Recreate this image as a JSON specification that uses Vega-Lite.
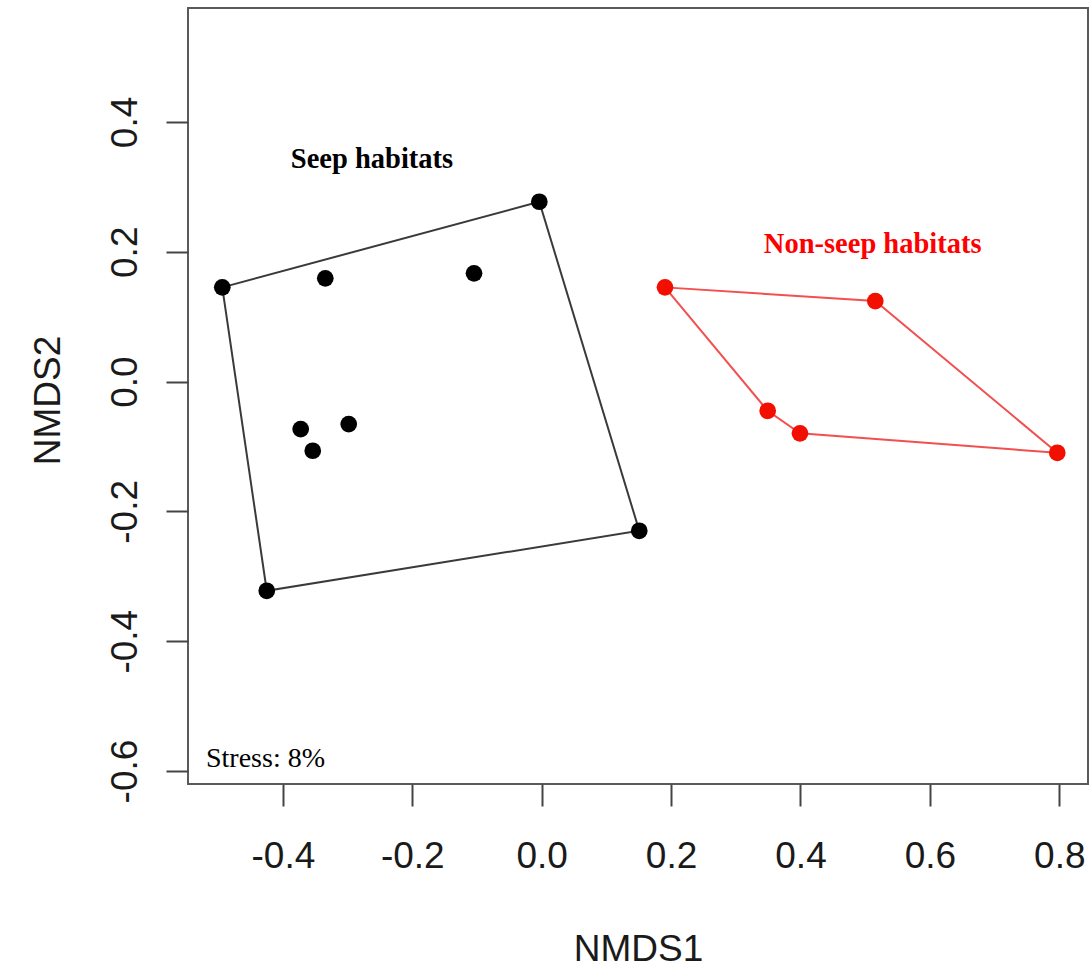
{
  "$schema": "https://vega.github.io/schema/vega-lite/v6.json",
  "width": 900,
  "height": 776,
  "autosize": {"type": "none"},
  "padding": {"left": 188, "top": 8, "right": 4, "bottom": 185},
  "background": "white",
  "config": {
    "view": {"stroke": "#5a5a5a", "strokeWidth": 2},
    "axis": {
      "labelFont": "Liberation Sans",
      "titleFont": "Liberation Sans",
      "labelFontSize": 37,
      "titleFontSize": 37,
      "labelColor": "#1a1a1a",
      "titleColor": "#1a1a1a",
      "titleFontWeight": "normal",
      "tickColor": "#444444",
      "tickWidth": 2,
      "tickSize": 22,
      "domain": false,
      "grid": false
    }
  },
  "datasets": {
    "pts": [
      {"NMDS1": -0.4937, "NMDS2": 0.1451, "habitat": "Seep"},
      {"NMDS1": -0.3345, "NMDS2": 0.1590, "habitat": "Seep"},
      {"NMDS1": -0.1046, "NMDS2": 0.1667, "habitat": "Seep"},
      {"NMDS1": -0.0037, "NMDS2": 0.2770, "habitat": "Seep"},
      {"NMDS1": -0.3725, "NMDS2": -0.0732, "habitat": "Seep"},
      {"NMDS1": -0.3539, "NMDS2": -0.1066, "habitat": "Seep"},
      {"NMDS1": -0.2983, "NMDS2": -0.0655, "habitat": "Seep"},
      {"NMDS1": 0.1508, "NMDS2": -0.2299, "habitat": "Seep"},
      {"NMDS1": -0.4250, "NMDS2": -0.3223, "habitat": "Seep"},
      {"NMDS1": 0.1906, "NMDS2": 0.1451, "habitat": "Non-seep"},
      {"NMDS1": 0.5156, "NMDS2": 0.1240, "habitat": "Non-seep"},
      {"NMDS1": 0.3493, "NMDS2": -0.0450, "habitat": "Non-seep"},
      {"NMDS1": 0.3992, "NMDS2": -0.0798, "habitat": "Non-seep"},
      {"NMDS1": 0.7969, "NMDS2": -0.1097, "habitat": "Non-seep"}
    ],
    "hull": [
      {"NMDS1": -0.4937, "NMDS2": 0.1451, "habitat": "Seep", "ord": 1},
      {"NMDS1": -0.0037, "NMDS2": 0.2770, "habitat": "Seep", "ord": 2},
      {"NMDS1": 0.1508, "NMDS2": -0.2299, "habitat": "Seep", "ord": 3},
      {"NMDS1": -0.4250, "NMDS2": -0.3223, "habitat": "Seep", "ord": 4},
      {"NMDS1": -0.4937, "NMDS2": 0.1451, "habitat": "Seep", "ord": 5},
      {"NMDS1": 0.1906, "NMDS2": 0.1451, "habitat": "Non-seep", "ord": 1},
      {"NMDS1": 0.5156, "NMDS2": 0.1240, "habitat": "Non-seep", "ord": 2},
      {"NMDS1": 0.7969, "NMDS2": -0.1097, "habitat": "Non-seep", "ord": 3},
      {"NMDS1": 0.3992, "NMDS2": -0.0798, "habitat": "Non-seep", "ord": 4},
      {"NMDS1": 0.3493, "NMDS2": -0.0450, "habitat": "Non-seep", "ord": 5},
      {"NMDS1": 0.1906, "NMDS2": 0.1451, "habitat": "Non-seep", "ord": 6}
    ],
    "labels": [
      {"NMDS1": -0.2623, "NMDS2": 0.329, "text": "Seep habitats", "habitat": "Seep"},
      {"NMDS1": 0.5116, "NMDS2": 0.198, "text": "Non-seep habitats", "habitat": "Non-seep"}
    ],
    "stress": [
      {"NMDS1": -0.5189, "NMDS2": -0.594, "text": "Stress: 8%"}
    ]
  },
  "encoding": {
    "x": {
      "field": "NMDS1", "type": "quantitative",
      "scale": {"domain": [-0.5467, 0.8444], "nice": false, "zero": false},
      "axis": {
        "title": "NMDS1",
        "values": [-0.4, -0.2, 0.0, 0.2, 0.4, 0.6, 0.8],
        "labelExpr": "replace(format(datum.value, '.1f'), '\u2212', '-')",
        "labelBaseline": "alphabetic",
        "labelPadding": 61,
        "titleBaseline": "alphabetic",
        "titleY": 176
      }
    },
    "y": {
      "field": "NMDS2", "type": "quantitative",
      "scale": {"domain": [-0.620, 0.5755], "nice": false, "zero": false},
      "axis": {
        "title": "NMDS2",
        "values": [-0.6, -0.4, -0.2, 0.0, 0.2, 0.4],
        "labelExpr": "replace(format(datum.value, '.1f'), '\u2212', '-')",
        "labelAngle": 270,
        "labelAlign": "center",
        "labelBaseline": "alphabetic",
        "labelPadding": 30,
        "titleAngle": 270,
        "titleAlign": "center",
        "titleBaseline": "alphabetic",
        "titleX": -129,
        "titleY": 392
      }
    }
  },
  "layer": [
    {
      "data": {"name": "hull"},
      "mark": {"type": "line", "strokeWidth": 2},
      "encoding": {
        "order": {"field": "ord", "type": "quantitative"},
        "detail": {"field": "habitat"},
        "color": {
          "field": "habitat", "type": "nominal",
          "scale": {"domain": ["Seep", "Non-seep"], "range": ["#3a3a3a", "#f25050"]},
          "legend": null
        }
      }
    },
    {
      "data": {"name": "pts"},
      "mark": {"type": "circle", "size": 280, "opacity": 1},
      "encoding": {
        "color": {
          "field": "habitat", "type": "nominal",
          "scale": {"domain": ["Seep", "Non-seep"], "range": ["#000000", "#f20f00"]},
          "legend": null
        }
      }
    },
    {
      "data": {"name": "labels"},
      "mark": {"type": "text", "font": "Liberation Serif", "fontWeight": "bold", "fontSize": 28.5, "align": "center", "baseline": "alphabetic"},
      "encoding": {
        "text": {"field": "text"},
        "color": {
          "field": "habitat", "type": "nominal",
          "scale": {"domain": ["Seep", "Non-seep"], "range": ["#000000", "#ff0000"]},
          "legend": null
        }
      }
    },
    {
      "data": {"name": "stress"},
      "mark": {"type": "text", "font": "Liberation Serif", "fontSize": 28, "align": "left", "baseline": "alphabetic", "color": "#000000"},
      "encoding": {
        "text": {"field": "text"}
      }
    }
  ],
  "resolve": {"scale": {"color": "independent"}}
}
